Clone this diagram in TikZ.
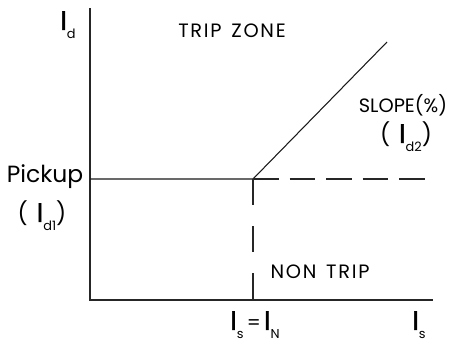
\documentclass[tikz,border=0pt]{standalone}
\usepackage{fontspec}
\setmainfont{Poppins}
\newfontfamily\zonefont{Poppins}[LetterSpace=9]
\newfontfamily\barfont{Poppins}[FakeBold=1.3]
\usetikzlibrary{positioning}
\tikzset{
  axis/.style={line width=1.1pt,black!85},
  curve/.style={line width=0.9pt,black!90},
  hdash/.style={line width=1.9pt,black!85,dash pattern=on 22pt off 9.2pt},
  vdash/.style={line width=1.9pt,black!85,dash pattern=on 22pt off 18.3pt},
  lbl/.style={inner sep=0pt,anchor=base,font=\fontsize{16.5}{19}\selectfont},
  zone/.style={lbl,font=\fontsize{16.5}{19}\selectfont\zonefont},
  paren/.style={lbl,font=\fontsize{19}{22}\selectfont},
  biglbl/.style={lbl,font=\fontsize{20}{24}\selectfont},
}
\newcommand{\Icur}[1]{{\fontsize{23}{23}\selectfont\barfont I}\raisebox{-7.5pt}{\fontsize{11}{11}\selectfont #1}}

\begin{document}
\begin{tikzpicture}[x=0.03cm,y=0.03cm]
  \useasboundingbox (0,0) rectangle (453,344);

  % axes
  \coordinate (o) at (90,44);
  \coordinate (ytop) at (90,336);
  \coordinate (xend) at (433,44);
  \coordinate (pk) at (90,165);
  \coordinate (p) at (253,165);
  \coordinate (top) at (387,302);
  \coordinate (hend) at (426,165);
  \coordinate (foot) at (253,44);

  \draw[axis] (ytop) -- (o) -- (xend);
  \draw[curve] (pk) -- (p) -- (top);
  \draw[hdash] (p) -- (hend);
  \draw[vdash] (p) -- (foot);

  % labels
  \node[lbl] (idlbl) at (68,314) {\Icur{d}};
  \node[zone] (trip) at (232,306) {TRIP\hspace{0.5em}ZONE};
  \node[lbl] (slope) at (403,231) {SLOPE(\%)};
  \node[paren] (id2) at (406,201) {(\hspace{0.4em}\Icur{d2})};
  \node[biglbl] (pickup) at (45,161) {Pickup};
  \node[paren] (id1) at (42,122) {(\hspace{0.4em}\Icur{d1})};
  \node[zone] (nontrip) at (320,65) {NON\hspace{0.5em}TRIP};
  \node[lbl] (isin) at (255,14) {\Icur{s}\,=\,\Icur{N}};
  \node[lbl] (islbl) at (419,14) {\Icur{s}};
\end{tikzpicture}
\end{document}
